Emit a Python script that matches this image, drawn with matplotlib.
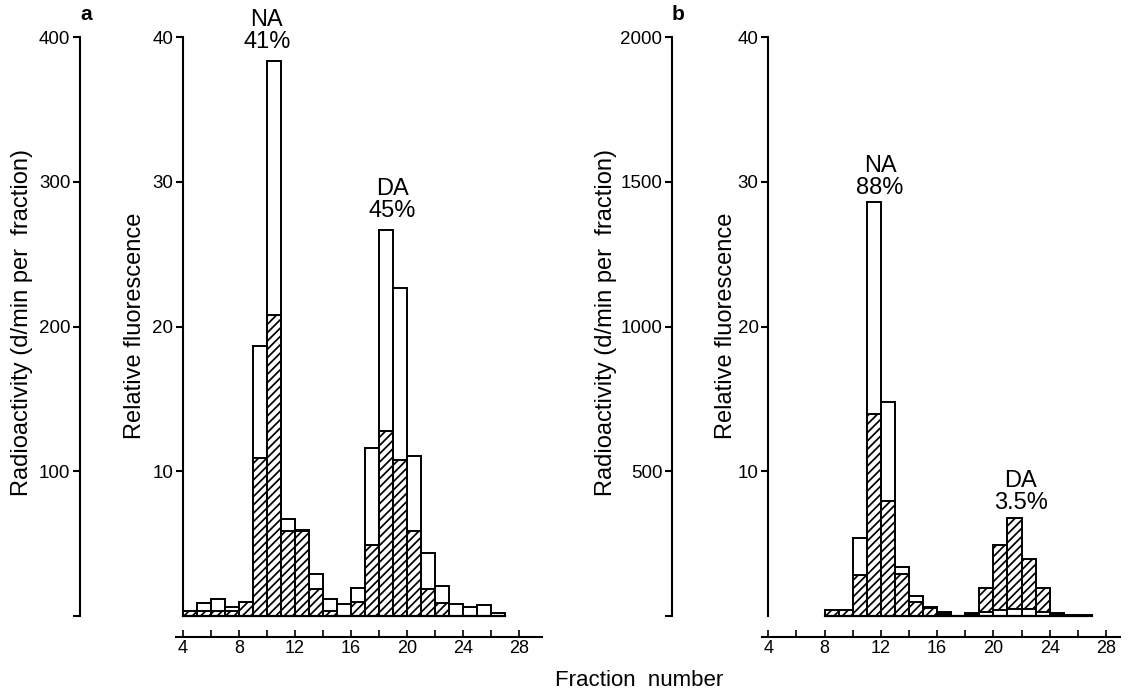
import matplotlib
matplotlib.use("Agg")
import matplotlib.pyplot as plt
import numpy as np

plt.rcParams['font.family'] = ['Liberation Sans', 'DejaVu Sans']
plt.rcParams['hatch.linewidth'] = 1.25

# ---------------- data ----------------
fractions_a = list(range(4, 27))
fluor_a = [0.36, 0.93, 1.19, 0.61, 1.0, 18.66, 38.36, 6.70, 5.92, 2.91, 1.19, 0.86,
           1.92, 11.62, 26.7, 22.66, 11.07, 4.38, 2.09, 0.86, 0.59, 0.77, 0.2]
radio_a = [3.6, 3.6, 3.6, 3.6, 10, 109, 208, 59, 59, 18.5, 3.6, 0,
           10, 49, 128, 108, 59, 19, 9, 0, 0, 0, 0]

fractions_b = list(range(8, 27))
fluor_b = [0.4, 0.4, 5.4, 28.6, 14.8, 3.4, 1.4, 0.65, 0.3, 0, 0.1, 0.25,
           0.4, 0.5, 0.45, 0.3, 0.1, 0.05, 0.05]
radio_b = [20, 20, 143, 698, 398, 145, 47, 27, 6, 0, 10, 96,
           245, 340, 198, 96, 10, 0, 0]

fluor_ticks = [10, 20, 30, 40]
radio_ticks_a = [0, 100, 200, 300, 400]
radio_ticks_b = [0, 500, 1000, 1500, 2000]
x_major = [4, 8, 12, 16, 20, 24, 28]
x_minor = list(range(4, 29, 2))

W, H = 1132, 696
fig = plt.figure(figsize=(W / 100, H / 100), dpi=100)


def px_rect(left, right, top, bottom):
    return [left / W, 1 - bottom / H, (right - left) / W, (bottom - top) / H]


def panel(rect, xlim, sec_loc, factor, rticks, fractions, fluor, radio,
          fl_label_px, rad_label_px, notes):
    ax = fig.add_axes(rect)
    ax.set_xlim(*xlim)
    ax.set_ylim(-1.45, 40)
    fwd = lambda y: np.asarray(y) * factor
    inv = lambda y: np.asarray(y) / factor
    sec = ax.secondary_yaxis(sec_loc, functions=(fwd, inv))

    fl = np.asarray(fluor, dtype=float)
    rf = inv(np.asarray(radio, dtype=float))
    wb = ax.bar(fractions, fl, width=1, align='edge', facecolor='white',
                edgecolor='black', linewidth=1.4)
    hb = ax.bar(fractions, rf, width=1, align='edge', facecolor='white',
                edgecolor='black', linewidth=1.4, hatch='////')
    for w, h, fv, rv in zip(wb, hb, fl, rf):
        if fv >= rv:
            w.set_zorder(2); h.set_zorder(3)
        else:
            w.set_zorder(3); h.set_zorder(2)
    ax.plot([fractions[0], fractions[-1] + 1], [0, 0], color='black', lw=1.6, zorder=4)

    for s in ['top', 'right']:
        ax.spines[s].set_visible(False)
    ax.spines['left'].set_position(('data', 4))
    ax.spines['left'].set_bounds(0, 40)
    ax.spines['left'].set_linewidth(1.5)
    ax.spines['bottom'].set_linewidth(1.5)
    ax.set_yticks(fluor_ticks)
    ax.set_xticks(x_minor, minor=True)
    ax.set_xticks(x_major)
    ax.tick_params(axis='x', which='both', direction='in', length=5, width=1.2,
                   labelsize=13, pad=2)
    ax.tick_params(axis='y', direction='out', length=5, width=1.5,
                   labelsize=13.5, pad=2)
    ax.set_ylabel('Relative fluorescence', fontsize=17)
    ax.yaxis.set_label_coords(fl_label_px / W, 1 - 326 / H, transform=fig.transFigure)

    sec.set_yticks(rticks, labels=[''] + [str(t) for t in rticks[1:]])
    sec.spines['left'].set_bounds(rticks[0], rticks[-1])
    sec.spines['left'].set_linewidth(1.5)
    sec.tick_params(axis='y', direction='out', length=5, width=1.5,
                    labelsize=13.5, pad=2)
    sec.set_ylabel('Radioactivity (d/min per  fraction)', fontsize=17)
    sec.yaxis.set_label_coords(rad_label_px / W, 1 - 323 / H, transform=fig.transFigure)

    for x, y, txt in notes:
        ax.text(x, y, txt, ha='center', va='bottom', fontsize=17,
                linespacing=1.0, zorder=6)
    return ax


# panel a
panel(px_rect(176, 542, 37, 637), (3.52, 29.61), -0.2623, 10, radio_ticks_a,
      fractions_a, fluor_a, radio_a, 146, 33,
      [(10.0, 38.9, 'NA\n41%'), (18.95, 27.2, 'DA\n45%')])

# panel b
panel(px_rect(762, 1120, 37, 637), (3.55, 29.0), (672 - 762) / 358, 50, radio_ticks_b,
      fractions_b, fluor_b, radio_b, 737, 617,
      [(11.94, 28.8, 'NA\n88%'), (21.96, 7.05, 'DA\n3.5%')])

fig.text(86 / W, 1 - 15 / H, 'a', fontsize=15, fontweight='bold', ha='center', va='center')
fig.text(678 / W, 1 - 15 / H, 'b', fontsize=15, fontweight='bold', ha='center', va='center')
fig.text(639 / W, 1 - 680 / H, 'Fraction  number', fontsize=16, ha='center', va='center')

fig.savefig('out.png', dpi=100)
